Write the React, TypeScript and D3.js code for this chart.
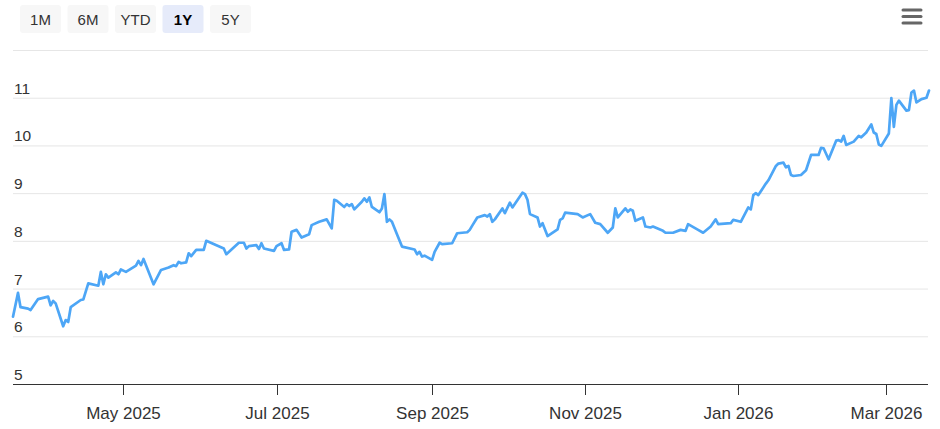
import { useMemo } from "react";
import * as d3 from "d3";

// price series (date, close)
const dates = [
  "2025-03-18", "2025-03-20", "2025-03-21", "2025-03-24", "2025-03-25", "2025-03-28",
  "2025-04-01", "2025-04-02", "2025-04-03", "2025-04-04", "2025-04-07", "2025-04-08",
  "2025-04-09", "2025-04-10", "2025-04-14", "2025-04-15", "2025-04-17", "2025-04-21",
  "2025-04-22", "2025-04-23", "2025-04-24", "2025-04-25", "2025-04-28", "2025-04-29",
  "2025-04-30", "2025-05-02", "2025-05-06", "2025-05-07", "2025-05-08", "2025-05-09",
  "2025-05-13", "2025-05-16", "2025-05-19", "2025-05-21", "2025-05-22", "2025-05-23",
  "2025-05-24", "2025-05-26", "2025-05-27", "2025-05-28", "2025-05-30", "2025-06-02",
  "2025-06-03", "2025-06-10", "2025-06-11", "2025-06-16", "2025-06-18", "2025-06-19",
  "2025-06-20", "2025-06-23", "2025-06-24", "2025-06-25", "2025-06-26", "2025-06-30",
  "2025-07-01", "2025-07-03", "2025-07-04", "2025-07-06", "2025-07-07", "2025-07-09",
  "2025-07-11", "2025-07-14", "2025-07-15", "2025-07-18", "2025-07-21", "2025-07-23",
  "2025-07-24", "2025-07-25", "2025-07-28", "2025-07-29", "2025-07-30", "2025-07-31",
  "2025-08-01", "2025-08-04", "2025-08-05", "2025-08-06", "2025-08-07", "2025-08-08",
  "2025-08-11", "2025-08-12", "2025-08-13", "2025-08-14", "2025-08-15", "2025-08-16",
  "2025-08-18", "2025-08-20", "2025-08-25", "2025-08-26", "2025-08-27", "2025-08-28",
  "2025-08-29", "2025-09-01", "2025-09-02", "2025-09-04", "2025-09-05", "2025-09-09",
  "2025-09-11", "2025-09-15", "2025-09-16", "2025-09-17", "2025-09-19", "2025-09-22",
  "2025-09-23", "2025-09-24", "2025-09-25", "2025-09-26", "2025-09-29", "2025-09-30",
  "2025-10-02", "2025-10-03", "2025-10-07", "2025-10-08", "2025-10-09", "2025-10-10",
  "2025-10-13", "2025-10-14", "2025-10-15", "2025-10-17", "2025-10-21", "2025-10-22",
  "2025-10-23", "2025-10-24", "2025-10-29", "2025-10-31", "2025-11-03", "2025-11-05",
  "2025-11-07", "2025-11-10", "2025-11-12", "2025-11-13", "2025-11-14", "2025-11-17",
  "2025-11-18", "2025-11-19", "2025-11-20", "2025-11-21", "2025-11-24", "2025-11-25",
  "2025-11-27", "2025-11-28", "2025-12-02", "2025-12-03", "2025-12-06", "2025-12-09",
  "2025-12-11", "2025-12-12", "2025-12-16", "2025-12-18", "2025-12-21", "2025-12-23",
  "2025-12-24", "2025-12-29", "2025-12-30", "2026-01-02", "2026-01-05", "2026-01-06",
  "2026-01-07", "2026-01-08", "2026-01-09", "2026-01-12", "2026-01-13", "2026-01-16",
  "2026-01-17", "2026-01-19", "2026-01-20", "2026-01-21", "2026-01-22", "2026-01-23",
  "2026-01-26", "2026-01-28", "2026-01-30", "2026-02-02", "2026-02-03", "2026-02-04",
  "2026-02-06", "2026-02-09", "2026-02-10", "2026-02-11", "2026-02-12", "2026-02-13",
  "2026-02-16", "2026-02-18", "2026-02-19", "2026-02-21", "2026-02-23", "2026-02-24",
  "2026-02-25", "2026-02-26", "2026-02-27", "2026-03-02", "2026-03-03", "2026-03-04",
  "2026-03-05", "2026-03-06", "2026-03-09", "2026-03-10", "2026-03-11", "2026-03-12",
  "2026-03-13", "2026-03-15", "2026-03-17", "2026-03-18",
];

const prices = [
  6.41, 6.91, 6.61, 6.58, 6.55, 6.78,
  6.83, 6.65, 6.74, 6.69, 6.21, 6.34,
  6.3, 6.61, 6.76, 6.77, 7.11, 7.06,
  7.35, 7.09, 7.3, 7.23, 7.34, 7.3,
  7.4, 7.35, 7.48, 7.58, 7.49, 7.62,
  7.09, 7.39, 7.44, 7.49, 7.47, 7.56,
  7.53, 7.55, 7.74, 7.68, 7.81, 7.81,
  8.0, 7.84, 7.72, 7.96, 7.96, 7.84,
  7.89, 7.91, 7.83, 7.95, 7.84, 7.79,
  7.89, 7.95, 7.81, 7.82, 8.19, 8.23,
  8.07, 8.14, 8.33, 8.4, 8.45, 8.26,
  8.86, 8.84, 8.71, 8.77, 8.73, 8.77,
  8.66, 8.82, 8.89, 8.82, 8.91, 8.71,
  8.6, 8.68, 8.98, 8.4, 8.45, 8.4,
  8.14, 7.88, 7.82, 7.72, 7.77, 7.67,
  7.69, 7.6, 7.77, 7.96, 7.93, 7.95,
  8.16, 8.18, 8.23, 8.32, 8.49, 8.54,
  8.51, 8.56, 8.4, 8.45, 8.68, 8.58,
  8.8, 8.7, 9.01, 8.98, 8.86, 8.56,
  8.49, 8.3, 8.37, 8.1, 8.24, 8.44,
  8.47, 8.59, 8.56, 8.49, 8.56, 8.38,
  8.35, 8.17, 8.28, 8.68, 8.49, 8.68,
  8.61, 8.66, 8.63, 8.42, 8.49, 8.3,
  8.28, 8.3, 8.21, 8.17, 8.17, 8.23,
  8.21, 8.35, 8.23, 8.17, 8.3, 8.45,
  8.35, 8.37, 8.44, 8.4, 8.7, 8.66,
  8.96, 9.0, 8.96, 9.2, 9.27, 9.57,
  9.62, 9.64, 9.54, 9.57, 9.38, 9.36,
  9.38, 9.48, 9.8, 9.8, 9.95, 9.94,
  9.71, 10.1, 10.11, 10.08, 10.2, 10.01,
  10.08, 10.2, 10.17, 10.27, 10.44, 10.27,
  10.24, 10.02, 9.99, 10.25, 10.99, 10.39,
  10.85, 10.94, 10.73, 10.74, 11.11, 11.15,
  10.9, 10.97, 11.0, 11.15,
];

const yTicks = [5, 6, 7, 8, 9, 10, 11, 12];
const xTickDates = ["2025-05-01", "2025-07-01", "2025-09-01", "2025-11-01", "2026-01-01", "2026-03-01"];
const rangeButtons = ["1M", "6M", "YTD", "1Y", "5Y"];
const selectedRange = "1Y";

const width = 940;
const height = 429;
const font = "'Liberation Sans', Arial, Helvetica, sans-serif";

export default function App() {
  const parse = d3.utcParse("%Y-%m-%d");
  const data = useMemo(
    () => dates.map((d, i) => ({ date: parse(d)!, value: prices[i] })),
    []
  );

  const x = d3
    .scaleUtc()
    .domain([parse("2025-03-18")!, parse("2026-03-18")!])
    .range([13, 929]);
  const y = d3.scaleLinear().domain([5, 12]).range([384, 50]);

  const line = d3
    .line<{ date: Date; value: number }>()
    .x((d) => x(d.date))
    .y((d) => y(d.value));

  const fmt = d3.utcFormat("%b %Y");

  return (
    <svg
      width={width}
      height={height}
      style={{ position: "absolute", left: 0, top: 0, background: "#fff" }}
      fontFamily={font}
    >
      {/* range selector */}
      {rangeButtons.map((b, i) => {
        const bx = 20 + i * 47.5;
        const active = b === selectedRange;
        return (
          <g key={b} transform={`translate(${bx},5)`}>
            <rect width={41} height={28} rx={3} fill={active ? "#e6ebfa" : "#f7f7f7"} />
            <text
              x={20.5}
              y={19.5}
              textAnchor="middle"
              fontSize={15}
              fontWeight={active ? "bold" : "normal"}
              fill={active ? "#000" : "#333"}
            >
              {b}
            </text>
          </g>
        );
      })}

      {/* menu icon */}
      <g stroke="#666" strokeWidth={3} strokeLinecap="round">
        {[10, 16.5, 23].map((ly) => (
          <line key={ly} x1={903} x2={921} y1={ly} y2={ly} />
        ))}
      </g>

      {/* grid + y labels */}
      {yTicks.map((t) => (
        <g key={t}>
          {t > 5 && (
            <line x1={13} x2={928} y1={y(t) + 0.5} y2={y(t) + 0.5} stroke="#e6e6e6" strokeWidth={1} />
          )}
          {t < 12 && (
            <text x={14} y={y(t) - 4} fontSize={15.5} fill="#333">
              {t}
            </text>
          )}
        </g>
      ))}

      {/* x axis */}
      <line x1={13} x2={928} y1={384.5} y2={384.5} stroke="#333" strokeWidth={1} />
      {xTickDates.map((s) => {
        const d = parse(s)!;
        const tx = Math.round(x(d)) + 0.5;
        return (
          <g key={s}>
            <line x1={tx} x2={tx} y1={384} y2={395} stroke="#333" strokeWidth={1} />
            <text x={tx} y={419} textAnchor="middle" fontSize={17} fill="#333">
              {fmt(d)}
            </text>
          </g>
        );
      })}

      {/* price line */}
      <path
        d={line(data) || undefined}
        fill="none"
        stroke="#4da6f6"
        strokeWidth={2.7}
        strokeLinejoin="round"
        strokeLinecap="round"
      />
    </svg>
  );
}
